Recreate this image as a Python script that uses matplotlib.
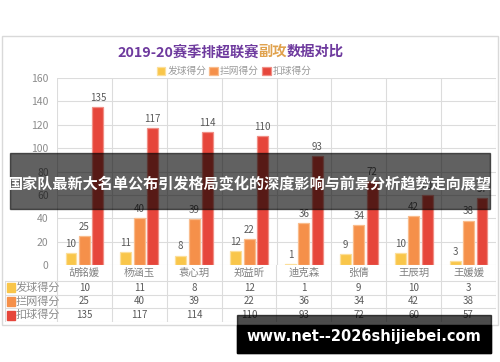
import numpy as np
import matplotlib
matplotlib.use('Agg')
import matplotlib.pyplot as plt
from matplotlib.patches import Rectangle

plt.rcParams['font.family'] = ['Noto Sans CJK SC', 'DejaVu Sans']

# data
players = ['胡铭媛', '杨涵玉', '袁心玥', '郑益昕', '迪克森', '张倩', '王辰玥', '王媛媛']
serve = [10, 11, 8, 12, 1, 9, 10, 3]
block = [25, 40, 39, 22, 36, 34, 42, 38]
spike = [135, 117, 114, 110, 93, 72, 60, 57]
series_names = ['发球得分', '拦网得分', '扣球得分']
colors = ['#F9C64A', '#F5904A', '#E6463B']
edges = ['#FCDF9A', '#F9BC8C', '#F08F86']

W, H = 500, 362
fig = plt.figure(figsize=(W / 100, H / 100), dpi=100)
fig.patch.set_facecolor('white')


def px(x0, y0, x1, y1):
    # pixel box (top-left origin) -> figure fraction rect
    return [x0 / W, 1 - y1 / H, (x1 - x0) / W, (y1 - y0) / H]


# chart frame
fig.patches.append(Rectangle((2 / W, 1 - 325 / H), 496 / W, 289 / H,
                             transform=fig.transFigure, fill=False,
                             edgecolor='#d9d9d9', lw=1))

x_left, x_right, y_top, y_zero = 57, 496, 78, 265
ax = fig.add_axes(px(x_left, y_top, x_right, y_zero))
n = len(players)
x = np.arange(n)
ax.set_xlim(-0.5, n - 0.5)
ax.set_ylim(0, 160)
ax.set_yticks(np.arange(0, 161, 20))
ax.set_xticks([])
for s in ax.spines.values():
    s.set_visible(False)
ax.tick_params(axis='y', length=0, labelsize=7.5, labelcolor='#8c8c8c', pad=6)
ax.grid(axis='y', color='#dcdcdc', lw=0.8)
for b in np.arange(-0.5, n, 1.0):
    ax.axvline(b, color='#dcdcdc', lw=0.8)
ax.set_axisbelow(True)

width = 0.2
offsets = [-0.245, 0.0, 0.245]
bars = []
for vals, off, c, e, name in zip([serve, block, spike], offsets, colors, edges, series_names):
    b = ax.bar(x + off, vals, width, color=c, edgecolor=e, lw=0.9, label=name)
    bars.append(b)
    for xi, v in zip(x + off, vals):
        ax.annotate(str(v), (xi, v), xytext=(0, 3), textcoords='offset points',
                    ha='center', va='bottom', fontsize=7, color='#595959')

leg = fig.legend(handles=bars, labels=series_names, loc='center',
                 bbox_to_anchor=(234 / W, 1 - 71 / H), ncol=3, frameon=False,
                 fontsize=7, handlelength=0.9, handleheight=0.9,
                 columnspacing=0.3, handletextpad=0.2, labelcolor='#9a9a9a')

# title with mixed colours
fig.canvas.draw()
r = fig.canvas.get_renderer()
parts = [('2019-20赛季排超联赛', '#6E3A9E'), ('副攻', '#E0A24E'), ('数据对比', '#6E3A9E')]
xpos = 117
for txt, col in parts:
    t = fig.text(xpos / W, 1 - 52 / H, txt, fontsize=10.3, fontweight='bold',
                 color=col, va='center', ha='left')
    xpos += t.get_window_extent(r).width

# data table below the axis
tax = fig.add_axes(px(5, y_zero, x_right, 322))
tax.set_xlim(5, x_right)
tax.set_ylim(322, y_zero)
tax.axis('off')
cw = (x_right - x_left) / n
rows = [y_zero, 281, 294.5, 308, 322]
for i in range(n + 1):
    tax.plot([x_left + i * cw] * 2, [y_zero, 322], color='#dcdcdc', lw=0.8)
tax.plot([5, 5], [281, 322], color='#dcdcdc', lw=0.8)
for yl in rows[1:]:
    tax.plot([5, x_right], [yl, yl], color='#dcdcdc', lw=0.8)
for i, p in enumerate(players):
    tax.text(x_left + (i + 0.5) * cw, (rows[0] + rows[1]) / 2, p, ha='center',
             va='center', fontsize=7.5, color='#808080')
for j, (vals, name, c) in enumerate(zip([serve, block, spike], series_names, colors)):
    yc = (rows[j + 1] + rows[j + 2]) / 2
    tax.add_patch(Rectangle((7, yc - 4.5), 8, 9, color=c))
    tax.text(16, yc, name, ha='left', va='center', fontsize=8, color='#8c8c8c')
    for i, v in enumerate(vals):
        tax.text(x_left + (i + 0.5) * cw, yc, str(v), ha='center', va='center',
                 fontsize=7, color='#595959')

# overlay banner
fig.patches.append(Rectangle((10 / W, 1 - 209 / H), 480 / W, 56 / H,
                             transform=fig.transFigure, color='black',
                             alpha=0.62, zorder=10))
fig.text(0.5, 1 - 184 / H, '国家队最新大名单公布引发格局变化的深度影响与前景分析趋势走向展望',
         ha='center', va='center', fontsize=10.9, fontweight='bold',
         color='white', zorder=11)

# watermark box
fig.patches.append(Rectangle((237 / W, 1 - 353 / H), 254 / W, 38 / H,
                             transform=fig.transFigure, color='black',
                             alpha=0.7, zorder=10))
fig.patches.append(Rectangle((237 / W, 1 - 353 / H), 254 / W, 28 / H,
                             transform=fig.transFigure, color='black',
                             zorder=10))
fig.text(364 / W, 1 - 337 / H, 'www.net--2026shijiebei.com', ha='center',
         va='center', fontsize=10.5, fontweight='bold', color='white',
         family='DejaVu Sans', zorder=11)

fig.savefig('out.png', dpi=100)
